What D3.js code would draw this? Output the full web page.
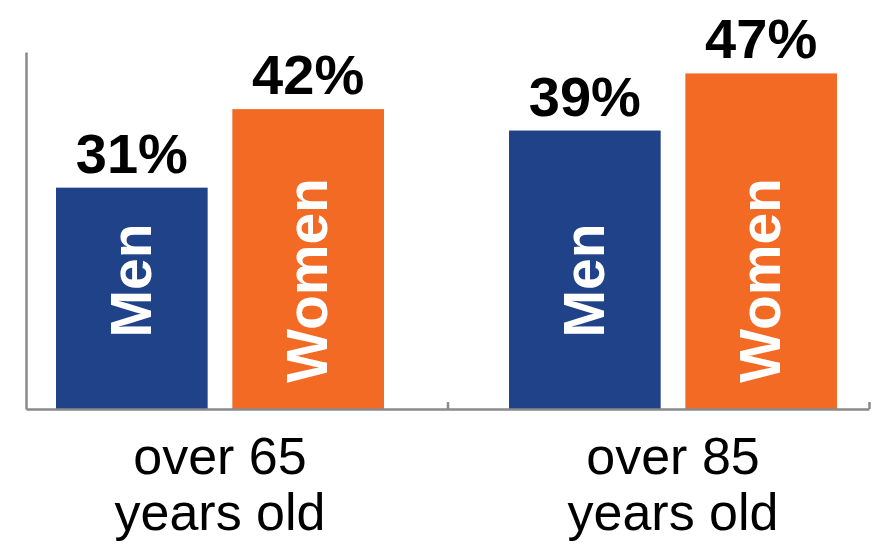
<!DOCTYPE html>
<meta charset="utf-8">
<script src="https://d3js.org/d3.v7.min.js"></script>
<style>
  body { margin: 0; background: #fff; }
  text { font-family: "Liberation Sans", Arial, Helvetica, sans-serif; }
</style>
<div id="my_dataviz"></div>

<script>
// Data
var groups = ["over 65", "over 85"];
var groupLines = [["over 65", "years old"], ["over 85", "years old"]];
var sexes = ["Men", "Women"];
var men = [31, 39];
var women = [42, 47];

var data = [];
groups.forEach(function(g, i) {
  data.push({group: g, sex: "Men", value: men[i]});
  data.push({group: g, sex: "Women", value: women[i]});
});

var width = 874, height = 546;
var axisLeftX = 26, axisRightX = 869, baseY = 409;

var svg = d3.select("#my_dataviz")
  .append("svg")
    .attr("width", width)
    .attr("height", height);

var color = d3.scaleOrdinal().domain(sexes).range(["#1f4288", "#f26a24"]);

// Scales
var y = d3.scaleLinear().domain([0, 50]).range([baseY, 52]);

var x0 = d3.scaleBand()
  .domain(groups)
  .range([56, 837])
  .paddingInner(0.276)
  .paddingOuter(0);

var x1 = d3.scaleBand()
  .domain(sexes)
  .range([0, x0.bandwidth()])
  .paddingInner(0.14)
  .paddingOuter(0);

// Axis boundaries (ticks between categories)
var xb = d3.scaleLinear().domain([0, groups.length]).range([axisLeftX, axisRightX]);

// Bars
var bars = svg.append("g")
  .selectAll("g")
  .data(data)
  .enter().append("g")
    .attr("transform", d => "translate(" + (x0(d.group) + x1(d.sex)) + ",0)");

bars.append("rect")
  .attr("x", 0)
  .attr("y", d => y(d.value))
  .attr("width", x1.bandwidth())
  .attr("height", d => y(0) - y(d.value))
  .attr("fill", d => color(d.sex));

// Value labels
bars.append("text")
  .attr("x", x1.bandwidth() / 2)
  .attr("y", d => y(d.value) - 15)
  .attr("text-anchor", "middle")
  .attr("font-size", 56)
  .attr("font-weight", "bold")
  .attr("fill", "#000")
  .text(d => d.value + "%");

// Sex labels inside bars
bars.append("text")
  .attr("transform", "translate(" + (x1.bandwidth() / 2 + 19) + "," + y(18) + ") rotate(-90)")
  .attr("text-anchor", "middle")
  .attr("font-size", 57)
  .attr("font-weight", "bold")
  .attr("fill", "#fff")
  .text(d => d.sex);

// Axes
var axisColor = "#8a8a8a";
var gx = svg.append("g")
  .attr("transform", "translate(0," + baseY + ")")
  .call(d3.axisBottom(xb).tickValues(d3.range(1, groups.length + 1)).tickSize(-7).tickSizeOuter(0).tickFormat(""));
gx.select(".domain").attr("stroke", axisColor).attr("stroke-width", 2.5);
gx.selectAll(".tick line").attr("stroke", axisColor).attr("stroke-width", 2.5);

var gy = svg.append("g")
  .attr("transform", "translate(" + axisLeftX + ",0)")
  .call(d3.axisLeft(y).tickValues([]).tickSizeOuter(0));
gy.select(".domain").attr("stroke", axisColor).attr("stroke-width", 2.5);

// Category labels
var cat = svg.append("g")
  .selectAll("text")
  .data(groups)
  .enter().append("text")
    .attr("x", d => x0(d) + x0.bandwidth() / 2)
    .attr("y", 474)
    .attr("text-anchor", "middle")
    .attr("font-size", 52)
    .attr("fill", "#000");

cat.selectAll("tspan")
  .data((d, i) => groupLines[i])
  .enter().append("tspan")
    .attr("x", function() { return d3.select(this.parentNode).attr("x"); })
    .attr("dy", (d, i) => i === 0 ? 0 : 56)
    .text(d => d);
</script>
